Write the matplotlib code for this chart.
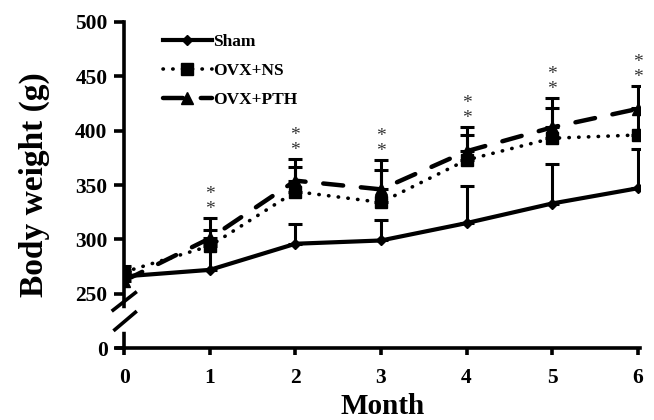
import matplotlib
matplotlib.use('Agg')
import matplotlib.pyplot as plt

months = [0, 1, 2, 3, 4, 5, 6]
sham = [266, 272, 296, 299, 315, 333, 347]
sham_err = [6, 25, 18, 19, 34, 36, 36]
ovx_ns = [270, 294, 344, 334, 373, 393, 396]
ovx_ns_err = [6, 15, 23, 30, 23, 28, 25]
ovx_pth = [262, 301, 354, 346, 381, 403, 420]
ovx_pth_err = [8, 19, 20, 27, 22, 27, 21]
stars_at = [1, 2, 3, 4, 5, 6]
yticks = [200, 250, 300, 350, 400, 450, 500]
yticklabels = ['0', '250', '300', '350', '400', '450', '500']

plt.rcParams['font.family'] = ['Liberation Serif', 'DejaVu Serif']
plt.rcParams['font.weight'] = 'bold'

fig = plt.figure(figsize=(6.54, 4.2), dpi=100)
ax = fig.add_axes([0.19, 0.171, 0.789, 0.777])

lw = 2.6
# error bars, upper only
for vals, errs in [(sham, sham_err), (ovx_ns, ovx_ns_err), (ovx_pth, ovx_pth_err)]:
    ax.errorbar(months, vals, yerr=[[0] * len(errs), errs], fmt='none', ecolor='black',
                elinewidth=2.2, capsize=5, capthick=2.2, zorder=2)

ax.plot(months, sham, color='black', lw=lw + 0.4, ls='-', marker='D', ms=5,
        label='Sham', zorder=3)
ax.plot(months, ovx_ns, color='black', lw=lw, ls=(0, (0.1, 2.6)),
        dash_capstyle='round', marker='s', ms=9, label='OVX+NS', zorder=3)
ax.plot(months, ovx_pth, color='black', lw=lw + 0.6, ls=(0, (4.5, 4.0)),
        dash_capstyle='round', marker='^', ms=9, label='OVX+PTH', zorder=3)

# significance stars
for m in stars_at:
    top = ovx_pth[m] + ovx_pth_err[m]
    ax.annotate('*\n*', (m, top), xytext=(0, 0), textcoords='offset points',
                ha='center', va='bottom', fontsize=14, color='#333333',
                fontweight='normal', linespacing=0.85)

ax.set_xlim(0, 6.03)
ax.set_ylim(200, 500)
ax.set_xticks(months)
ax.set_yticks(yticks)
ax.set_yticklabels(yticklabels)
for s in ['top', 'right']:
    ax.spines[s].set_visible(False)
for s in ['left', 'bottom']:
    ax.spines[s].set_linewidth(2.6)
ax.spines['bottom'].set_bounds(-0.08, 6.03)
ax.tick_params(axis='both', width=2.6, labelsize=15.5, direction='out')
ax.tick_params(axis='y', length=7, pad=5)
ax.tick_params(axis='x', length=5, pad=9)

# axis break on the y axis
ax.plot([0, 0], [218, 234], color='white', lw=4, clip_on=False, zorder=4)
ax.plot([-0.13, 0.13], [235, 251], color='black', lw=2.6, clip_on=False, zorder=5)
ax.plot([-0.11, 0.13], [217, 233], color='black', lw=2.6, clip_on=False, zorder=5)

ax.set_ylabel('Body weight (g)', fontsize=24, fontweight='bold', labelpad=18)
ax.set_xlabel('Month', fontsize=21, fontweight='bold', labelpad=4)

leg = ax.legend(loc='upper left', bbox_to_anchor=(0.045, 1.01), frameon=False,
                handlelength=2.8, handletextpad=0.1, labelspacing=0.72,
                prop={'size': 12.5, 'weight': 'bold'})

fig.savefig('out.png', dpi=100)
